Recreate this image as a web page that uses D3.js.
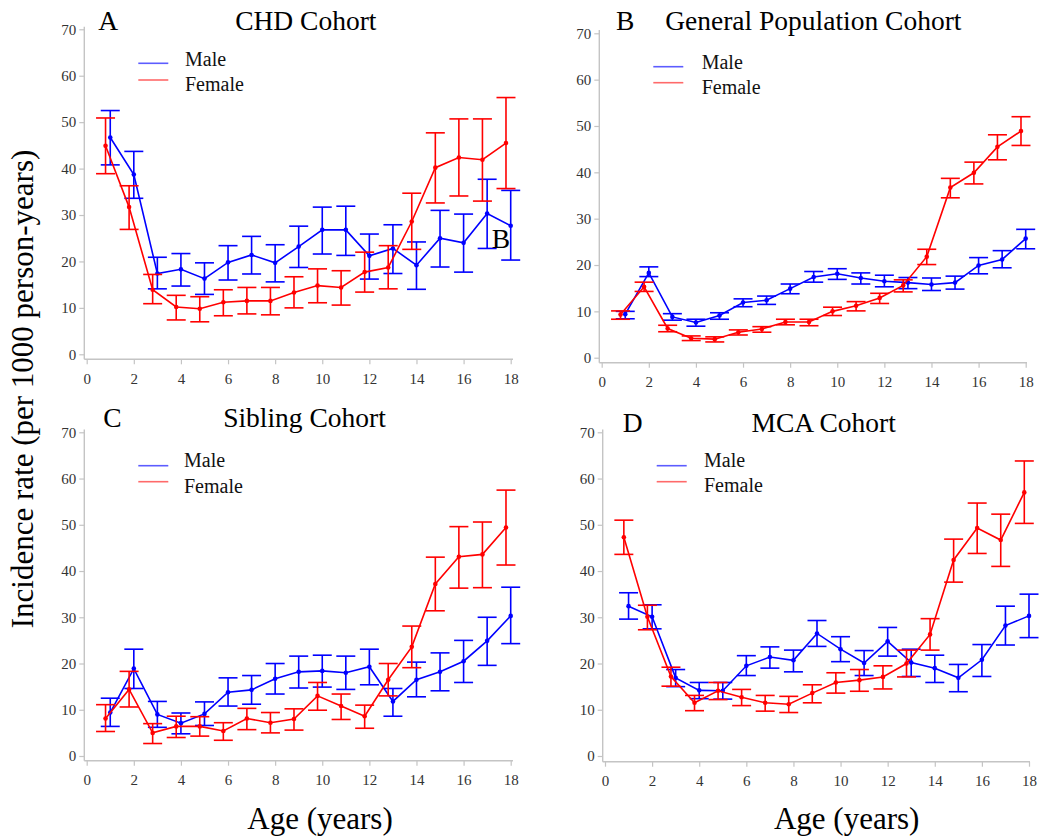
<!DOCTYPE html>
<html>
<head>
<meta charset="utf-8">
<script src="https://cdn.jsdelivr.net/npm/d3@7"></script>
<style>
  body { margin: 0; background: #fff; }
  svg { display: block; }
  text { font-family: "Liberation Serif", "Times New Roman", serif; }
</style>
</head>
<body>
<svg id="chart" width="1040" height="838"></svg>
<script>
// ---- data -------------------------------------------------------------
const ages = [1, 2, 3, 4, 5, 6, 7, 8, 9, 10, 11, 12, 13, 14, 15, 16, 17, 18];
const xTickValues = [0, 2, 4, 6, 8, 10, 12, 14, 16, 18];
const yTickValues = [0, 10, 20, 30, 40, 50, 60, 70];
const seriesNames = ["Male", "Female"];
const cohortLetters = ["A", "B", "C", "D"];
const cohortTitles = ["CHD Cohort", "General Population Cohort", "Sibling Cohort", "MCA Cohort"];

// CHD cohort (incidence per 1000 person-years, with 95% CI)
const chdMale     = [46.7, 38.7, 17.4, 18.3, 16.3, 19.8, 21.4, 19.7, 23.2, 26.8, 26.8, 21.2, 22.8, 19.2, 25.0, 24.0, 30.3, 27.7];
const chdMaleLo   = [40.8, 33.6, 14.1, 14.7, 12.9, 16.0, 17.3, 15.6, 18.7, 21.6, 21.3, 16.2, 17.4, 14.0, 18.8, 17.7, 22.8, 20.3];
const chdMaleHi   = [52.5, 43.7, 20.9, 21.7, 19.7, 23.4, 25.4, 23.6, 27.6, 31.7, 31.9, 25.9, 27.9, 24.2, 31.0, 30.2, 37.7, 35.3];
const chdFemale   = [44.9, 31.7, 13.9, 10.2, 9.8, 11.2, 11.5, 11.5, 13.3, 14.8, 14.4, 17.7, 18.7, 28.6, 40.2, 42.4, 41.9, 45.5];
const chdFemaleLo = [38.9, 26.9, 10.9, 7.4, 7.0, 8.3, 8.7, 8.5, 10.0, 11.1, 10.6, 13.4, 14.1, 22.6, 32.6, 34.1, 33.0, 35.7];
const chdFemaleHi = [50.9, 36.3, 17.2, 12.7, 12.4, 13.9, 14.4, 14.4, 16.7, 18.4, 18.0, 22.0, 23.4, 34.7, 47.7, 50.7, 50.7, 55.3];

// General population cohort
const genMale     = [9.4, 18.3, 8.8, 7.6, 9.1, 11.9, 12.4, 14.9, 17.4, 18.1, 17.2, 16.5, 16.2, 15.8, 16.2, 19.9, 21.2, 25.7];
const genMaleLo   = [8.4, 17.5, 8.1, 6.8, 8.3, 11.0, 11.5, 13.8, 16.3, 16.9, 15.9, 15.3, 14.9, 14.5, 14.8, 18.1, 19.4, 23.5];
const genMaleHi   = [10.0, 19.6, 9.5, 8.3, 9.7, 12.7, 13.3, 15.9, 18.6, 19.2, 18.3, 17.8, 17.3, 17.2, 17.6, 21.6, 23.1, 27.7];
const genFemale   = [9.3, 15.3, 6.3, 4.2, 4.0, 5.5, 6.2, 7.7, 7.7, 10.0, 11.2, 12.9, 15.6, 21.8, 36.7, 39.9, 45.5, 48.9];
const genFemaleLo = [8.3, 14.3, 5.6, 3.7, 3.4, 4.9, 5.5, 7.1, 6.9, 9.1, 10.1, 11.7, 14.2, 20.1, 34.5, 37.5, 42.7, 45.8];
const genFemaleHi = [10.1, 16.3, 7.0, 4.7, 4.5, 6.0, 6.7, 8.3, 8.3, 10.9, 12.1, 13.9, 16.8, 23.4, 38.7, 42.2, 48.1, 52.0];

// Sibling cohort
const sibMale     = [9.4, 18.9, 9.0, 7.1, 9.1, 13.8, 14.3, 16.7, 18.2, 18.4, 18.0, 19.3, 11.8, 16.5, 18.2, 20.5, 24.9, 30.3];
const sibMaleLo   = [6.4, 14.6, 6.2, 4.8, 6.6, 10.8, 11.2, 13.4, 14.7, 14.9, 14.4, 15.4, 8.6, 12.8, 14.1, 15.9, 19.6, 24.3];
const sibMaleHi   = [12.5, 23.1, 11.8, 9.3, 11.7, 16.9, 17.4, 20.0, 21.6, 21.8, 21.6, 23.1, 14.6, 20.3, 22.3, 25.0, 30.0, 36.5];
const sibFemale   = [8.1, 14.4, 5.0, 6.4, 6.4, 5.4, 8.1, 7.2, 8.0, 13.0, 10.8, 8.6, 16.5, 23.6, 37.2, 43.1, 43.6, 49.4];
const sibFemaleLo = [5.3, 10.6, 2.7, 4.0, 4.3, 3.4, 5.7, 5.0, 5.6, 9.9, 7.9, 6.0, 13.0, 19.1, 31.4, 36.3, 36.4, 41.3];
const sibFemaleHi = [11.1, 18.3, 7.0, 8.6, 8.5, 7.2, 10.3, 9.4, 10.2, 15.9, 13.4, 11.0, 20.0, 28.1, 43.0, 49.6, 50.6, 57.5];

// MCA cohort
const mcaMale     = [32.4, 30.1, 16.9, 14.2, 14.1, 19.5, 21.4, 20.7, 26.5, 23.1, 20.1, 24.8, 20.2, 19.0, 16.9, 20.8, 28.2, 30.3];
const mcaMaleLo   = [29.6, 27.5, 15.0, 12.4, 12.3, 17.4, 19.0, 18.2, 23.7, 20.4, 17.4, 21.6, 17.2, 15.9, 13.9, 17.2, 24.0, 25.6];
const mcaMaleHi   = [35.3, 32.7, 18.7, 15.9, 15.9, 21.7, 23.6, 22.9, 29.3, 25.8, 22.8, 27.8, 23.1, 21.8, 19.8, 24.1, 32.4, 35.0];
const mcaFemale   = [47.3, 30.1, 17.2, 11.5, 14.1, 12.7, 11.5, 11.2, 13.6, 15.9, 16.4, 17.1, 20.0, 26.3, 42.4, 49.3, 46.7, 57.0];
const mcaFemaleLo = [43.6, 27.3, 15.1, 9.8, 12.2, 10.9, 9.7, 9.4, 11.5, 13.6, 14.0, 14.5, 17.1, 22.9, 37.6, 43.8, 41.0, 50.3];
const mcaFemaleHi = [51.0, 32.6, 19.2, 13.1, 15.9, 14.4, 13.1, 12.9, 15.4, 18.0, 18.7, 19.5, 22.9, 29.7, 46.9, 54.7, 52.3, 63.8];

// ---- layout -----------------------------------------------------------
const cohortSeries = [
  [[chdMale, chdMaleLo, chdMaleHi], [chdFemale, chdFemaleLo, chdFemaleHi]],
  [[genMale, genMaleLo, genMaleHi], [genFemale, genFemaleLo, genFemaleHi]],
  [[sibMale, sibMaleLo, sibMaleHi], [sibFemale, sibFemaleLo, sibFemaleHi]],
  [[mcaMale, mcaMaleLo, mcaMaleHi], [mcaFemale, mcaFemaleLo, mcaFemaleHi]]
];

// plot frames: data range in pixels plus the offset axis lines
const panels = [
  { x0: 86.7, x1: 510.7, y0: 354.3, y1: 29.3, axX: 84.3, axY: 359.3, axTop: 26.7, axRight: 513,
    letterX: 98.3, titleX: 305.8, titleY: 30,
    legLine: [138.3, 168.3], legText: 185, legLineY: [63.3, 80], legTextY: [65.7, 90.7] },
  { x0: 601.7, x1: 1025.7, y0: 357.7, y1: 33.3, axX: 599.3, axY: 362.7, axTop: 30, axRight: 1027,
    letterX: 616, titleX: 813.3, titleY: 30,
    legLine: [653.3, 683.3], legText: 701.7, legLineY: [66.7, 82.7], legTextY: [69, 94] },
  { x0: 86.7, x1: 510.7, y0: 756, y1: 432.3, axX: 84.3, axY: 760.7, axTop: 429.5, axRight: 513,
    letterX: 103.3, titleX: 304.5, titleY: 427.3,
    legLine: [138.3, 168.3], legText: 184, legLineY: [465.7, 481.7], legTextY: [466.7, 492.7] },
  { x0: 605, x1: 1029, y0: 756, y1: 432.3, axX: 602.7, axY: 761.7, axTop: 429.5, axRight: 1030,
    letterX: 622.7, titleX: 823.7, titleY: 431.7,
    legLine: [656.7, 686.7], legText: 704, legLineY: [465.7, 481.7], legTextY: [466.7, 492] }
];

const colors = ["#0000ff", "#ff0000"];
const legendColors = ["#5c5cff", "#ff6a6a"];
const femaleShift = -0.2;   // female estimates are drawn slightly left of each age
const capHalf = 9.5;
const axisGray = "#c4c4c4";
const tickTextColor = "#333";
const serif = '"Liberation Serif", "Times New Roman", serif';

const svg = d3.select("#chart");

function styleAxis(sel) {
  sel.attr("font-family", serif).attr("font-size", 15);
  sel.select(".domain").remove();
  sel.selectAll(".tick line").attr("stroke", axisGray).attr("stroke-width", 1.2);
  sel.selectAll(".tick text")
    .attr("fill", tickTextColor)
    .attr("font-family", serif)
    .style("font-family", serif);
}

panels.forEach((p, i) => {
  const x = d3.scaleLinear().domain([0, 18]).range([p.x0, p.x1]);
  const y = d3.scaleLinear().domain([0, 70]).range([p.y0, p.y1]);
  const g = svg.append("g");

  // y axis
  g.append("g")
    .attr("transform", `translate(${p.axX},0)`)
    .call(d3.axisLeft(y).tickValues(yTickValues).tickSize(5).tickSizeOuter(0).tickPadding(3))
    .call(styleAxis);

  // x axis
  g.append("g")
    .attr("transform", `translate(0,${p.axY})`)
    .call(d3.axisBottom(x).tickValues(xTickValues).tickSize(5).tickSizeOuter(0).tickPadding(9))
    .call(styleAxis);

  // axis lines
  g.append("line")
    .attr("x1", p.axX).attr("x2", p.axX).attr("y1", p.axTop).attr("y2", p.axY)
    .attr("stroke", axisGray).attr("stroke-width", 1.4);
  g.append("line")
    .attr("x1", p.axX).attr("x2", p.axRight).attr("y1", p.axY).attr("y2", p.axY)
    .attr("stroke", axisGray).attr("stroke-width", 1.4);

  // series: male first, female drawn on top
  cohortSeries[i].forEach((s, k) => {
    const [est, lo, hi] = s;
    const shift = k === 1 ? femaleShift : 0;
    const rows = ages.map((a, j) => ({ age: a + shift, v: est[j], lo: lo[j], hi: hi[j] }));
    const sg = g.append("g").attr("stroke", colors[k]).attr("fill", colors[k]);

    sg.append("path")
      .datum(rows)
      .attr("fill", "none")
      .attr("stroke-width", 1.6)
      .attr("d", d3.line().x(d => x(d.age)).y(d => y(d.v)));

    const bars = sg.selectAll(".bar").data(rows).join("g").attr("class", "bar")
      .attr("stroke-width", 1.6);
    bars.append("line")
      .attr("x1", d => x(d.age)).attr("x2", d => x(d.age))
      .attr("y1", d => y(d.lo)).attr("y2", d => y(d.hi));
    bars.append("line")
      .attr("x1", d => x(d.age) - capHalf).attr("x2", d => x(d.age) + capHalf)
      .attr("y1", d => y(d.hi)).attr("y2", d => y(d.hi));
    bars.append("line")
      .attr("x1", d => x(d.age) - capHalf).attr("x2", d => x(d.age) + capHalf)
      .attr("y1", d => y(d.lo)).attr("y2", d => y(d.lo));

    sg.selectAll("circle").data(rows).join("circle")
      .attr("stroke", "none")
      .attr("cx", d => x(d.age)).attr("cy", d => y(d.v)).attr("r", 2.3);
  });

  // legend
  seriesNames.forEach((name, k) => {
    g.append("line")
      .attr("x1", p.legLine[0]).attr("x2", p.legLine[1])
      .attr("y1", p.legLineY[k]).attr("y2", p.legLineY[k])
      .attr("stroke", legendColors[k]).attr("stroke-width", 1.6);
    g.append("text")
      .attr("x", p.legText).attr("y", p.legTextY[k])
      .attr("font-size", 20).attr("fill", "#111")
      .text(name);
  });

  // panel letter and title
  g.append("text")
    .attr("x", p.letterX).attr("y", p.titleY)
    .attr("font-size", 27.5).attr("fill", "#000")
    .text(cohortLetters[i]);
  g.append("text")
    .attr("x", p.titleX).attr("y", p.titleY)
    .attr("text-anchor", "middle")
    .attr("font-size", 27.5).attr("fill", "#000")
    .text(cohortTitles[i]);
});

// stray panel letter sitting inside the first plot
svg.append("text")
  .attr("x", 491.7).attr("y", 248.3)
  .attr("font-size", 27.5).attr("fill", "#000")
  .text(cohortLetters[1]);

// shared axis titles
svg.append("text")
  .attr("transform", "translate(33,389) rotate(-90)")
  .attr("text-anchor", "middle")
  .attr("font-size", 31).attr("fill", "#000")
  .text("Incidence rate (per 1000 person-years)");

[320, 846.7].forEach(cx => {
  svg.append("text")
    .attr("x", cx).attr("y", 829)
    .attr("text-anchor", "middle")
    .attr("font-size", 31).attr("fill", "#000")
    .text("Age (years)");
});
</script>
</body>
</html>
